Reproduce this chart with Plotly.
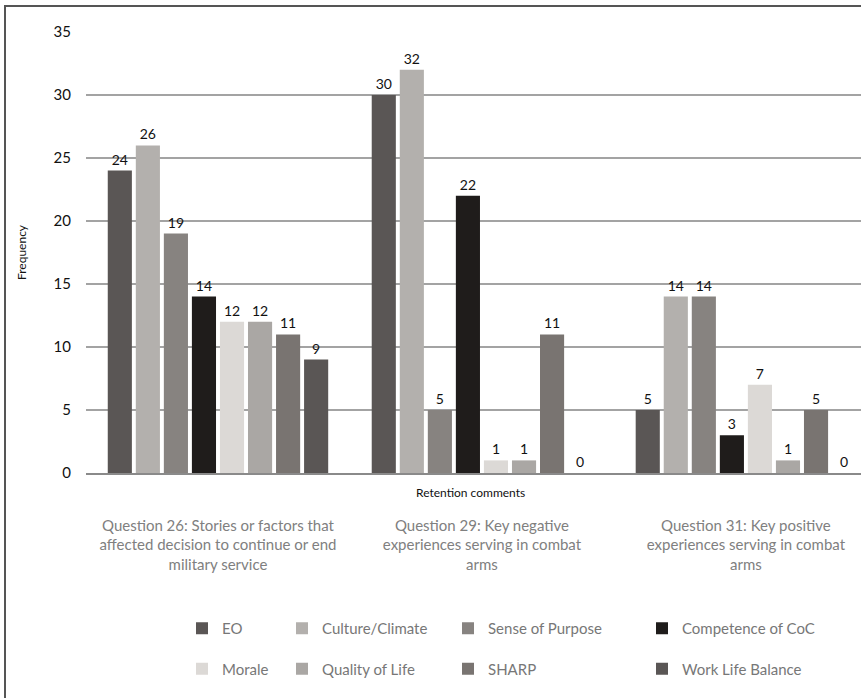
import plotly.graph_objects as go

# Retention comment categories (x axis)
questions = [
    "Question 26: Stories or factors that<br>affected decision to continue or end<br>military service",
    "Question 29: Key negative<br>experiences serving in combat<br>arms",
    "Question 31: Key positive<br>experiences serving in combat<br>arms",
]

# Frequency of each theme per question
eo = [24, 30, 5]
culture_climate = [26, 32, 14]
sense_of_purpose = [19, 5, 14]
competence_coc = [14, 22, 3]
morale = [12, 1, 7]
quality_of_life = [12, 1, 1]
sharp = [11, 11, 5]
work_life_balance = [9, 0, 0]

y_ticks = [0, 5, 10, 15, 20, 25, 30, 35]

series = [
    ("EO", eo, "#5a5655", "legend"),
    ("Culture/Climate", culture_climate, "#b3b0ad", "legend2"),
    ("Sense of Purpose", sense_of_purpose, "#878380", "legend3"),
    ("Competence of CoC", competence_coc, "#1f1c1b", "legend4"),
    ("Morale", morale, "#dcd9d6", "legend"),
    ("Quality of Life", quality_of_life, "#aaa7a4", "legend2"),
    ("SHARP", sharp, "#797471", "legend3"),
    ("Work Life Balance", work_life_balance, "#5a5655", "legend4"),
]

FONT = "Lato, 'Open Sans', sans-serif"

fig = go.Figure()
for name, vals, color, leg in series:
    fig.add_trace(go.Bar(
        name=name,
        x=questions,
        y=vals,
        marker=dict(color=color, line=dict(width=0)),
        text=[str(v) for v in vals],
        textposition="outside",
        textfont=dict(family=FONT, size=14, color="#111111"),
        cliponaxis=False,
        legend=leg,
        legendgroup=name,
    ))

W, H = 861, 698
L, R, T, B = 86, 0, 32, 225
pw, ph = W - L - R, H - T - B


def px(x):
    return (x - L) / pw


def py(y):
    return (H - B - y) / ph


legend_common = dict(
    orientation="v",
    yanchor="top",
    xanchor="left",
    y=py(612),
    font=dict(family=FONT, size=15, color="#777777"),
    bgcolor="rgba(0,0,0,0)",
    tracegroupgap=18,
    itemwidth=30,
)

fig.update_layout(
    width=W,
    height=H,
    margin=dict(l=L, r=R, t=T, b=B),
    paper_bgcolor="white",
    plot_bgcolor="white",
    barmode="group",
    bargap=0.15,
    bargroupgap=0.14,
    font=dict(family=FONT, color="#111111"),
    showlegend=True,
    legend=dict(x=px(182), **legend_common),
    legend2=dict(x=px(282), **legend_common),
    legend3=dict(x=px(448), **legend_common),
    legend4=dict(x=px(642), **legend_common),
    xaxis=dict(
        range=[-0.5, 2.436],
        showgrid=False,
        showline=True,
        linecolor="#8a8a8a",
        linewidth=1.5,
        ticks="",
        tickfont=dict(family=FONT, size=15, color="#808080"),
        ticklabelstandoff=38,
    ),
    yaxis=dict(
        range=[0, 35],
        tickvals=y_ticks,
        showgrid=True,
        gridcolor="#a3a3a3",
        gridwidth=1.5,
        zeroline=False,
        showline=False,
        ticks="",
        ticklabelstandoff=14,
        tickfont=dict(family=FONT, size=15, color="#111111"),
        title=dict(text="Frequency", font=dict(family=FONT, size=12, color="#111111"), standoff=24),
    ),
    shapes=[
        dict(type="rect", xref="paper", yref="paper",
             x0=px(5), x1=px(880), y0=py(720), y1=py(6),
             line=dict(color="#555555", width=2), fillcolor="rgba(0,0,0,0)",
             layer="below"),
    ],
    annotations=[
        dict(text="Retention comments", xref="paper", yref="paper",
             x=px(470), y=py(492), showarrow=False,
             font=dict(family=FONT, size=12, color="#111111"),
             xanchor="center", yanchor="middle"),
    ],
)

fig.write_html("out.html")
